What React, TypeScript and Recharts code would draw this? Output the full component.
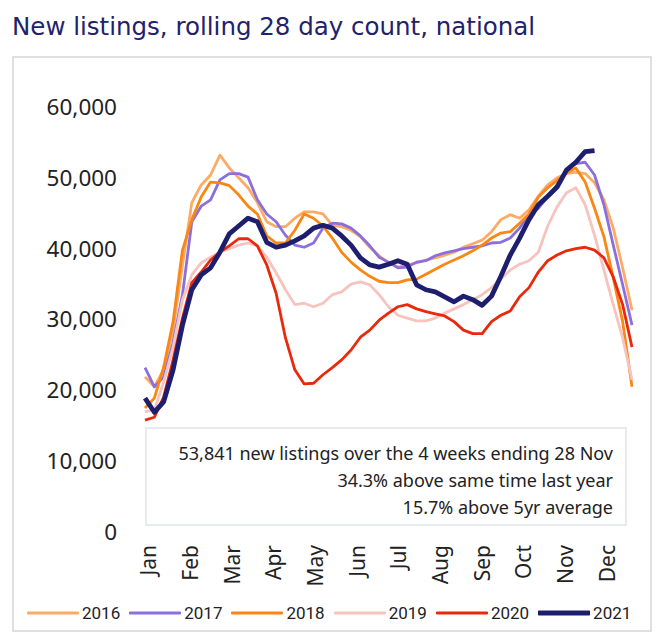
import React from "react";
import { LineChart, Line, XAxis, YAxis } from "recharts";

const weeks = [
  0, 1, 2, 3, 4, 5, 6, 7, 8, 9, 10, 11, 12, 13, 14, 15, 16, 17, 18, 19, 20, 21, 22, 23, 24, 25, 26,
  27, 28, 29, 30, 31, 32, 33, 34, 35, 36, 37, 38, 39, 40, 41, 42, 43, 44, 45, 46, 47, 48, 49, 50,
  51, 52,
];

const monthLabels = ["Jan", "Feb", "Mar", "Apr", "May", "Jun", "Jul", "Aug", "Sep", "Oct", "Nov", "Dec"];
const monthTicks = [0.4, 4.85, 9.3, 13.75, 18.2, 22.65, 27.1, 31.55, 36.0, 40.45, 44.9, 49.35];
const yTicks = [0, 10000, 20000, 30000, 40000, 50000, 60000];

const s2016 = [
  21900, 20500, 22900, 28500, 37700, 46500, 49000, 50400, 53200, 51400, 50000, 48600, 46500, 43800,
  43100, 43100, 44300, 45200, 45200, 44900, 43300, 43100, 42600, 41700, 40200, 39000, 38000, 37400,
  37700, 38000, 38400, 38700, 39100, 39500, 40200, 40700, 41200, 42400, 44100, 44800, 44300, 45500,
  47400, 49000, 50000, 50600, 50800, 50600, 49300, 46900, 42900, 37300, 31300,
];
const s2017 = [
  23200, 20500, 21900, 26700, 33500, 43800, 46000, 46900, 49700, 50600, 50600, 50100, 46900, 44900,
  43800, 41900, 40500, 40200, 40800, 42900, 43600, 43500, 42900, 41800, 40400, 38800, 38100, 37300,
  37400, 38100, 38300, 39000, 39400, 39700, 40000, 40200, 40400, 40800, 40900, 41500, 42900, 44800,
  45700, 47300, 49000, 51100, 52000, 52200, 50400, 46200, 40500, 34900, 29200,
];
const s2018 = [
  17500, 18900, 23300, 29700, 39800, 44100, 47300, 49400, 49300, 48900, 47600, 46000, 44900, 41800,
  40800, 40800, 42600, 44900, 44300, 43200, 41500, 39500, 38100, 37000, 36100, 35400, 35200, 35200,
  35600, 35700, 36400, 37100, 37800, 38400, 39000, 39700, 40500, 41500, 42200, 42400, 43600, 44900,
  47300, 48600, 49600, 50700, 51400, 49400, 45700, 41700, 35900, 29700, 20500,
];
const s2019 = [
  17000, 17200, 21200, 26100, 32800, 36300, 38000, 38800, 39500, 40000, 40500, 40800, 40400, 38800,
  36600, 34200, 32100, 32300, 31800, 32300, 33500, 33900, 35000, 35300, 34900, 33500, 31800, 30600,
  30200, 29800, 29800, 30200, 30900, 31500, 32100, 32800, 33500, 34500, 35700, 37000, 37800, 38300,
  39500, 43200, 45900, 47900, 48600, 46200, 41900, 37000, 32100, 27400, 21500,
];
const s2020 = [
  15800, 16200, 19100, 24300, 30200, 35200, 36700, 38400, 39500, 40400, 41400, 41400, 40400, 37700,
  33700, 27400, 22900, 20900, 21000, 22200, 23200, 24300, 25700, 27500, 28500, 29900, 30900, 31800,
  32100, 31500, 31100, 30800, 30500, 29700, 28500, 28000, 28000, 29700, 30600, 31200, 33200, 34500,
  36700, 38300, 39100, 39700, 40000, 40200, 39800, 38700, 36000, 32100, 26100,
];
const s2021 = [
  18900, 16900, 18400, 22900, 29200, 34200, 36300, 37300, 39500, 42100, 43200, 44300, 43800, 40900,
  40200, 40500, 41100, 41800, 42900, 43300, 42900, 41800, 40500, 38700, 37700, 37400, 37800, 38300,
  37800, 34900, 34200, 33900, 33200, 32500, 33300, 32800, 32000, 33300, 36100, 39100, 41500, 44100,
  46200, 47400, 48700, 51100, 52200, 53700, 53841,
];

const series = [
  { key: "y2016", name: "2016", values: s2016, color: "#fbab66", width: 2.8 },
  { key: "y2017", name: "2017", values: s2017, color: "#8b6fdc", width: 2.8 },
  { key: "y2018", name: "2018", values: s2018, color: "#fa8614", width: 2.8 },
  { key: "y2019", name: "2019", values: s2019, color: "#f6c3be", width: 2.8 },
  { key: "y2020", name: "2020", values: s2020, color: "#e8290b", width: 2.8 },
  { key: "y2021", name: "2021", values: s2021, color: "#1e1e6e", width: 4.8 },
];

const noteLines = [
  "53,841 new listings over the 4 weeks ending 28 Nov",
  "34.3% above same time last year",
  "15.7% above 5yr average",
];

const data = weeks.map((w, i) => {
  const row: Record<string, number | undefined> = { week: w };
  series.forEach((s) => (row[s.key] = s.values[i]));
  return row;
});

const MonthTick = (props: any) => {
  const { x, y, payload } = props;
  const label = monthLabels[monthTicks.indexOf(payload.value)];
  return (
    <g transform={`translate(${x},${y + 13})`}>
      <text
        transform="rotate(-90)"
        textAnchor="end"
        dy="0.36em"
        fontSize={21}
        fill="#222"
        fontFamily="'Noto Sans', sans-serif"
      >
        {label}
      </text>
    </g>
  );
};

export default function App() {
  return (
    <div style={{ position: "absolute", left: 0, top: 0, width: 660, height: 643, background: "#fff" }}>
      <div
        style={{
          position: "absolute",
          left: 12,
          top: 12,
          fontFamily: "'DejaVu Sans', sans-serif",
          fontSize: 24.5,
          color: "#22226b",
          whiteSpace: "nowrap",
        }}
      >
        New listings, rolling 28 day count, national
      </div>
      <div
        style={{
          position: "absolute",
          left: 12,
          top: 56,
          width: 640,
          height: 576,
          boxSizing: "border-box",
          border: "2px solid #dfe0e6",
        }}
      />
      <div style={{ position: "absolute", left: 0, top: 0 }}>
        <LineChart width={660} height={643} data={data} margin={{ top: 107, right: 28, bottom: 51, left: 45 }}>
          <XAxis
            dataKey="week"
            type="number"
            domain={[0, 52]}
            ticks={monthTicks}
            interval={0}
            tick={<MonthTick />}
            axisLine={false}
            tickLine={false}
            tickSize={0}
            tickMargin={0}
            height={60}
          />
          <YAxis
            domain={[0, 60000]}
            ticks={yTicks}
            width={100}
            axisLine={false}
            tickLine={false}
            tickSize={0}
            tickMargin={28}
            tick={{ fontSize: 22.5, fill: "#222", fontFamily: "'Noto Sans', sans-serif" }}
            tickFormatter={(v: number) => v.toLocaleString("en-US")}
          />
          {series.map((s) => (
            <Line
              key={s.key}
              dataKey={s.key}
              name={s.name}
              type="linear"
              stroke={s.color}
              strokeWidth={s.width}
              strokeLinejoin="round"
              dot={false}
              activeDot={false}
              isAnimationActive={false}
            />
          ))}
        </LineChart>
      </div>
      <div
        style={{
          position: "absolute",
          left: 145,
          top: 427,
          width: 482,
          height: 99,
          boxSizing: "border-box",
          border: "2px solid #e7eaee",
          background: "#fff",
          paddingTop: 11,
          paddingRight: 12,
          textAlign: "right",
          fontFamily: "'Noto Sans', sans-serif",
          fontSize: 18,
          lineHeight: "27px",
          color: "#222",
        }}
      >
        {noteLines.map((t) => (
          <div key={t}>{t}</div>
        ))}
      </div>
      <div
        style={{
          position: "absolute",
          left: 27,
          top: 603,
          display: "flex",
          alignItems: "center",
          fontFamily: "Roboto, sans-serif",
          fontSize: 17,
          color: "#222",
        }}
      >
        {series.map((s) => (
          <div key={s.key} style={{ display: "flex", alignItems: "center", marginRight: 9 }}>
            <svg width={52} height={8} style={{ marginRight: 3 }}>
              <line x1={1} y1={4} x2={51} y2={4} stroke={s.color} strokeWidth={s.width} strokeLinecap="round" />
            </svg>
            <span>{s.name}</span>
          </div>
        ))}
      </div>
    </div>
  );
}
